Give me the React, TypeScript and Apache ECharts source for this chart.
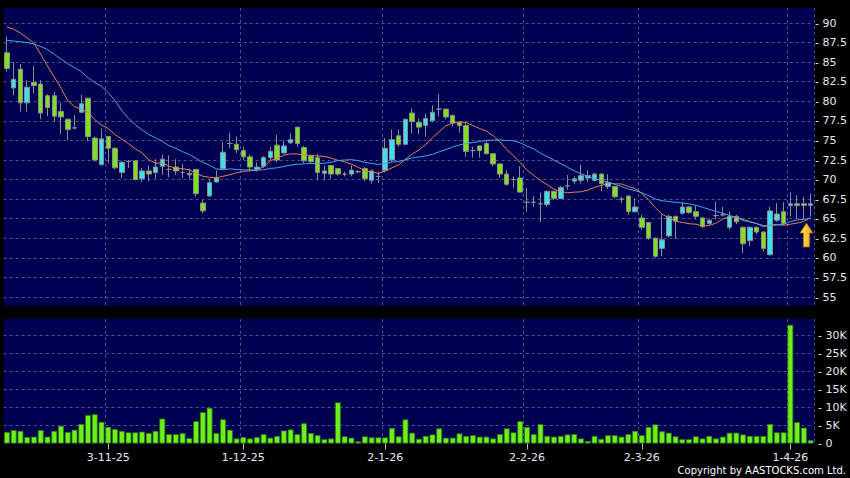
import React, { useEffect, useRef } from "react";
import * as echarts from "echarts";

// Trading days (d-m-yy)
const dates: string[] = [
  "10-10-25", "13-10-25", "14-10-25", "15-10-25", "16-10-25", "17-10-25", "20-10-25", "21-10-25", "22-10-25", "23-10-25",
  "24-10-25", "27-10-25", "28-10-25", "30-10-25", "31-10-25", "3-11-25", "4-11-25", "5-11-25", "6-11-25", "7-11-25",
  "10-11-25", "11-11-25", "12-11-25", "13-11-25", "14-11-25", "17-11-25", "18-11-25", "19-11-25", "20-11-25", "21-11-25",
  "24-11-25", "25-11-25", "26-11-25", "27-11-25", "28-11-25", "1-12-25", "2-12-25", "3-12-25", "4-12-25", "5-12-25",
  "8-12-25", "9-12-25", "10-12-25", "11-12-25", "12-12-25", "15-12-25", "16-12-25", "17-12-25", "18-12-25", "19-12-25",
  "22-12-25", "23-12-25", "24-12-25", "29-12-25", "30-12-25", "31-12-25", "2-1-26", "5-1-26", "6-1-26", "7-1-26",
  "8-1-26", "9-1-26", "12-1-26", "13-1-26", "14-1-26", "15-1-26", "16-1-26", "19-1-26", "20-1-26", "21-1-26",
  "22-1-26", "23-1-26", "26-1-26", "27-1-26", "28-1-26", "29-1-26", "30-1-26", "2-2-26", "3-2-26", "4-2-26",
  "5-2-26", "6-2-26", "9-2-26", "10-2-26", "11-2-26", "12-2-26", "13-2-26", "16-2-26", "20-2-26", "23-2-26",
  "24-2-26", "25-2-26", "26-2-26", "27-2-26", "2-3-26", "3-3-26", "4-3-26", "5-3-26", "6-3-26", "9-3-26",
  "10-3-26", "11-3-26", "12-3-26", "13-3-26", "16-3-26", "17-3-26", "18-3-26", "19-3-26", "20-3-26", "23-3-26",
  "24-3-26", "25-3-26", "26-3-26", "27-3-26", "30-3-26", "31-3-26", "1-4-26", "2-4-26", "8-4-26", "9-4-26",
];

const labelDates: string[] = ["3-11-25", "1-12-25", "2-1-26", "2-2-26", "2-3-26", "1-4-26"];

const opens: number[] = [
  86.2, 81.7, 84.1, 79.8, 82.4, 82.2, 80.7, 80.7, 78.7, 77.7,
  76.6, 78.6, 80.4, 75.3, 71.9, 75.5, 74.0, 70.9, 72.3, 72.4,
  70.1, 71.1, 70.9, 71.7, 71.3, 71.6, 70.9, 70.6, 71.3, 67.0,
  67.9, 69.7, 71.4, 74.6, 74.5, 73.7, 72.9, 71.3, 71.7, 72.8,
  74.4, 73.4, 74.7, 76.7, 74.1, 73.0, 72.8, 70.8, 71.8, 71.4,
  70.7, 70.7, 71.0, 71.4, 69.9, 70.4, 71.2, 72.5, 75.6, 74.5,
  78.5, 77.3, 76.9, 77.5, 79.0, 79.0, 78.2, 77.3, 76.9, 73.7,
  74.3, 74.6, 73.3, 72.0, 70.7, 70.0, 70.2, 67.1, 67.1, 66.9,
  66.8, 68.5, 67.6, 69.2, 69.8, 69.9, 70.2, 69.9, 70.7, 69.1,
  69.1, 67.5, 67.9, 65.9, 65.1, 64.5, 62.5, 61.2, 62.8, 65.3,
  65.7, 66.5, 65.9, 65.1, 64.4, 65.4, 65.5, 63.9, 65.3, 63.9,
  62.2, 63.9, 63.3, 60.4, 64.8, 65.9, 66.7, 66.9, 66.9, 66.7,
];

const closes: number[] = [
  84.2, 82.8, 79.8, 81.8, 82.0, 78.5, 79.2, 78.1, 78.0, 76.4,
  76.6, 79.7, 75.5, 72.5, 75.2, 74.0, 71.5, 72.2, 72.3, 70.0,
  71.1, 70.7, 71.6, 72.6, 71.3, 71.1, 70.9, 70.8, 68.2, 66.0,
  69.6, 70.2, 73.5, 74.6, 73.8, 72.9, 71.6, 71.6, 72.8, 73.6,
  72.5, 74.3, 75.1, 74.6, 72.4, 72.3, 70.9, 71.1, 70.7, 70.7,
  70.7, 71.2, 71.0, 70.1, 71.1, 70.4, 74.0, 75.1, 74.5, 77.7,
  77.4, 76.7, 77.8, 78.6, 79.0, 78.0, 77.2, 76.9, 73.6, 73.7,
  73.7, 73.3, 72.0, 70.7, 69.4, 70.0, 68.4, 67.1, 67.1, 66.9,
  68.5, 67.6, 69.0, 69.2, 70.1, 70.5, 70.5, 70.7, 69.5, 69.6,
  67.8, 67.5, 65.9, 66.5, 63.9, 62.5, 60.2, 62.3, 65.3, 64.7,
  66.5, 65.8, 65.3, 64.0, 64.8, 65.4, 65.5, 65.3, 64.6, 61.8,
  63.9, 63.3, 61.2, 66.0, 65.6, 64.4, 66.9, 66.7, 66.7, 66.9,
];

const lows: number[] = [
  83.8, 80.8, 78.7, 78.7, 81.0, 77.7, 78.1, 77.4, 75.8, 75.0,
  76.4, 78.5, 74.9, 72.3, 71.8, 72.1, 71.3, 70.2, 71.5, 69.9,
  69.7, 69.8, 70.1, 70.6, 70.3, 70.6, 70.2, 70.0, 67.8, 65.7,
  67.8, 69.6, 71.2, 74.0, 73.4, 72.5, 71.1, 71.0, 71.5, 72.5,
  72.2, 73.3, 74.5, 74.2, 72.1, 72.0, 69.9, 69.9, 70.1, 70.5,
  70.4, 70.4, 70.8, 69.8, 69.5, 69.6, 70.9, 72.3, 74.2, 74.4,
  75.9, 75.8, 75.5, 77.3, 78.1, 77.7, 76.8, 76.0, 72.9, 72.8,
  72.8, 73.2, 71.7, 70.2, 69.2, 69.0, 68.4, 65.9, 66.5, 64.6,
  66.5, 67.4, 67.5, 68.7, 69.4, 69.5, 69.7, 69.8, 68.5, 68.8,
  67.6, 67.0, 65.5, 65.8, 63.6, 62.3, 60.0, 60.2, 62.6, 62.4,
  65.5, 65.6, 64.9, 63.8, 64.2, 64.9, 65.3, 63.6, 64.3, 60.6,
  61.5, 63.0, 60.8, 60.3, 64.6, 64.2, 65.3, 65.0, 65.0, 65.3,
];

const highs: number[] = [
  88.3, 85.0, 84.8, 82.7, 84.5, 82.7, 80.9, 81.2, 79.8, 77.8,
  78.3, 80.8, 80.4, 75.5, 76.5, 75.5, 74.1, 72.4, 72.5, 72.5,
  71.5, 71.8, 72.6, 73.2, 73.1, 72.6, 72.0, 71.4, 71.3, 67.4,
  70.1, 71.2, 74.8, 76.0, 75.5, 74.2, 73.2, 72.2, 73.0, 74.2,
  75.7, 75.0, 75.9, 76.7, 74.3, 73.2, 73.3, 71.8, 71.8, 71.5,
  71.0, 71.8, 71.2, 71.6, 71.3, 71.0, 75.3, 76.4, 76.4, 77.8,
  79.1, 77.8, 78.4, 79.5, 80.9, 79.0, 78.3, 77.3, 77.3, 74.2,
  74.3, 74.9, 73.3, 72.0, 71.2, 70.4, 71.7, 68.9, 67.9, 68.3,
  68.6, 68.6, 69.2, 70.6, 70.4, 71.9, 71.2, 70.9, 70.8, 70.7,
  69.2, 67.8, 68.0, 67.6, 65.5, 64.6, 62.6, 65.5, 65.5, 65.4,
  67.2, 66.6, 66.7, 65.2, 65.0, 67.2, 66.5, 65.9, 65.5, 64.0,
  64.0, 64.0, 63.4, 66.5, 67.0, 67.1, 68.4, 68.0, 67.8, 68.2,
];

// Volume in thousands of shares
const volumesK: number[] = [
  3.2, 3.7, 3.5, 1.8, 1.9, 3.7, 1.9, 3.5, 4.9, 3.2,
  3.8, 5.4, 7.9, 8.1, 6.0, 4.6, 4.0, 3.5, 3.1, 3.1,
  3.3, 2.9, 3.5, 6.9, 2.6, 2.6, 2.9, 1.5, 6.2, 8.7,
  9.9, 2.9, 6.7, 3.8, 1.4, 1.8, 1.4, 1.8, 2.6, 1.6,
  2.1, 3.6, 3.9, 2.6, 5.6, 2.9, 2.3, 1.2, 1.4, 11.4,
  2.0, 1.6, 0.6, 2.0, 1.7, 1.7, 1.7, 4.3, 2.0, 6.7,
  3.0, 1.3, 2.1, 2.5, 4.2, 1.6, 1.6, 2.8, 2.1, 2.3,
  1.9, 1.9, 1.4, 2.6, 4.2, 3.1, 6.2, 4.6, 2.6, 5.4,
  2.1, 1.9, 2.1, 2.5, 2.6, 1.4, 0.7, 2.1, 1.3, 2.3,
  2.3, 1.9, 2.6, 3.5, 2.3, 4.6, 5.3, 3.4, 3.0, 2.0,
  1.2, 1.2, 2.0, 1.4, 2.1, 1.4, 1.9, 3.0, 3.0, 2.5,
  2.1, 2.1, 2.1, 5.4, 3.1, 3.1, 32.9, 5.9, 4.4, 0.9,
];

// Moving-average values before enough history exists in this window
const ma10Head: number[] = [89.5, 89.2, 88.7, 88.1, 87.4, 86.0, 84.5, 83.1, 81.7];
const ma20Head: number[] = [
  87.8, 87.7, 87.6, 87.5, 87.3, 87.0, 86.6, 86.0, 85.4, 84.8,
  84.3, 83.8, 83.0, 82.4, 81.9, 81.1, 80.1, 78.8, 77.8,
];

const PRICE_MIN = 55;
const PRICE_MAX = 90;
const PRICE_STEP = 2.5;
const VOL_MAX = 30000;
const VOL_STEP = 5000;

function movingAverage(period: number, head: number[]): number[] {
  return closes.map((_, i) => {
    if (i < period - 1) return head[i];
    let s = 0;
    for (let k = i - period + 1; k <= i; k++) s += closes[k];
    return +(s / period).toFixed(3);
  });
}

export default function App() {
  const ref = useRef<HTMLDivElement>(null);

  useEffect(() => {
    if (!ref.current) return;
    const chart = echarts.init(ref.current, undefined, { renderer: "svg" });

    const L = 3.6;
    const W = 810.4;
    // price panel
    const pTopFull = 8, pBotFull = 306;
    const pTop = 23, pBot = 297;
    const pxPerUnit = (pBot - pTop) / (PRICE_MAX - PRICE_MIN);
    const pFullMax = PRICE_MAX + (pTop - pTopFull) / pxPerUnit;
    const pFullMin = PRICE_MIN - (pBotFull - pBot) / pxPerUnit;
    // volume panel
    const vTopFull = 319, vBot = 443.5;
    const vTop = 335.3;
    const pxPerVol = (vBot - vTop) / VOL_MAX;
    const vFullMax = (vBot - vTopFull) / pxPerVol;

    const labelSet = new Set(labelDates);
    const splitIdx = (i: number) => labelSet.has(dates[i]);

    const gridLine = { color: "#50508c", type: [3, 3] as any, width: 1 };
    const font = { fontFamily: "DejaVu Sans", fontSize: 11, color: "#e8e8e8" };

    const candleData = dates.map((_, i) => [opens[i], closes[i], lows[i], highs[i]]);
    const volData = volumesK.map((v) => Math.round(v * 1000));

    chart.setOption({
      animation: false,
      backgroundColor: "#000000",
      grid: [
        { left: L, width: W, top: pTopFull, height: pBotFull - pTopFull, show: true, backgroundColor: "#000050", borderWidth: 0 },
        { left: L, width: W, top: pTop, height: pBot - pTop, show: false },
        { left: L, width: W, top: vTopFull, height: vBot - vTopFull, show: true, backgroundColor: "#000050", borderWidth: 0 },
        { left: L, width: W, top: vTop, height: vBot - vTop, show: false },
      ],
      xAxis: [
        {
          type: "category", gridIndex: 0, data: dates, boundaryGap: true,
          axisLine: { show: false }, axisTick: { show: false }, axisLabel: { show: false },
          splitLine: { show: true, interval: (i: number) => splitIdx(i), lineStyle: gridLine },
        },
        { type: "category", gridIndex: 1, data: dates, show: false },
        {
          type: "category", gridIndex: 2, data: dates, boundaryGap: true,
          axisLine: { show: false },
          axisTick: { show: true, alignWithLabel: true, length: 6, interval: (i: number) => splitIdx(i), lineStyle: { color: "#bbbbbb" } },
          axisLabel: { show: true, interval: (i: number) => splitIdx(i), margin: 8, ...font },
          splitLine: { show: true, interval: (i: number) => splitIdx(i), lineStyle: gridLine },
        },
        { type: "category", gridIndex: 3, data: dates, show: false },
      ],
      yAxis: [
        { type: "value", gridIndex: 0, min: pFullMin, max: pFullMax, show: false, splitLine: { show: false } },
        {
          type: "value", gridIndex: 1, position: "right", min: PRICE_MIN, max: PRICE_MAX, interval: PRICE_STEP,
          axisLine: { show: false }, axisTick: { show: false },
          axisLabel: {
            margin: 4, ...font,
            formatter: (v: number) => "- " + (Number.isInteger(v) ? String(v) : v.toFixed(1)),
          },
          splitLine: { show: true, lineStyle: gridLine },
        },
        { type: "value", gridIndex: 2, min: 0, max: vFullMax, show: false, splitLine: { show: false } },
        {
          type: "value", gridIndex: 3, position: "right", min: 0, max: VOL_MAX, interval: VOL_STEP,
          axisLine: { show: false }, axisTick: { show: false },
          axisLabel: {
            margin: 4, ...font,
            formatter: (v: number) => "- " + (v === 0 ? "0" : v / 1000 + "K"),
          },
          splitLine: { show: true, showMinLine: false, lineStyle: gridLine },
        },
      ],
      series: [
        {
          type: "candlestick", xAxisIndex: 0, yAxisIndex: 0, data: candleData, barWidth: 5,
          itemStyle: {
            color: "#3ee0f0", color0: "#80e020",
            borderColor: "#8c8c8c", borderColor0: "#8c8c8c", borderWidth: 1,
          },
        },
        {
          type: "line", xAxisIndex: 0, yAxisIndex: 0, data: movingAverage(10, ma10Head),
          symbol: "none", lineStyle: { color: "#e0824e", width: 1 }, z: 3,
        },
        {
          type: "line", xAxisIndex: 0, yAxisIndex: 0, data: movingAverage(20, ma20Head),
          symbol: "none", lineStyle: { color: "#3fa6ee", width: 1 }, z: 3,
        },
        {
          type: "bar", xAxisIndex: 2, yAxisIndex: 2, data: volData, barWidth: 5.8,
          itemStyle: { color: "#6cf21a", borderColor: "#2f7d0a", borderWidth: 0.8 },
        },
      ],
      graphic: [
        {
          type: "polygon", z: 100,
          shape: {
            points: [
              [806.5, 223], [813, 233], [809.6, 233], [809.6, 247],
              [803.4, 247], [803.4, 233], [800, 233],
            ],
          },
          style: {
            fill: new echarts.graphic.LinearGradient(0, 0, 1, 0, [
              { offset: 0, color: "#ffe866" },
              { offset: 1, color: "#e9a312" },
            ]),
            stroke: "#a86c00", lineWidth: 0.8,
          },
        },
        {
          type: "text", z: 100, right: 4, top: 465,
          style: { text: "Copyright by AASTOCKS.com Ltd.", fill: "#ffffff", font: "10px 'DejaVu Sans'" },
        },
      ],
    });

    return () => chart.dispose();
  }, []);

  return (
    <div
      ref={ref}
      style={{ position: "absolute", left: 0, top: 0, width: 850, height: 478 }}
    />
  );
}
